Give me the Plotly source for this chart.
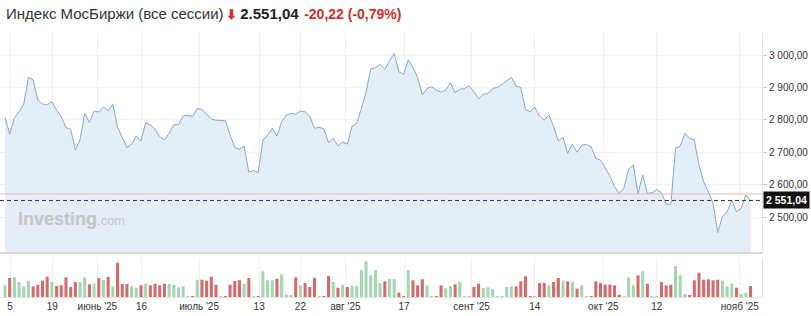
import plotly.graph_objects as go

# ---- data ----
close = [2808, 2756, 2805, 2825, 2849, 2931, 2923, 2861, 2849, 2846,
         2856, 2830, 2810, 2776, 2771, 2707, 2738, 2820, 2791, 2827,
         2824, 2840, 2828, 2848, 2777, 2748, 2714, 2724, 2750, 2735,
         2791, 2784, 2771, 2748, 2738, 2758, 2784, 2786, 2812, 2815,
         2810, 2835, 2832, 2818, 2802, 2799, 2799, 2797, 2753, 2715,
         2709, 2719, 2638, 2644, 2637, 2738, 2753, 2774, 2750, 2794,
         2815, 2820, 2818, 2827, 2825, 2810, 2774, 2777, 2772, 2730,
         2743, 2719, 2732, 2725, 2779, 2789, 2835, 2885, 2957, 2961,
         2971, 2956, 2982, 3005, 2948, 2941, 2985, 2962, 2931, 2877,
         2897, 2902, 2892, 2885, 2892, 2914, 2884, 2895, 2896, 2905,
         2887, 2865, 2879, 2881, 2897, 2900, 2910, 2921, 2931, 2904,
         2900, 2832, 2825, 2839, 2812, 2799, 2815, 2779, 2735, 2746,
         2697, 2725, 2700, 2722, 2724, 2717, 2681, 2676, 2650, 2627,
         2594, 2573, 2589, 2648, 2660, 2571, 2630, 2573, 2575, 2585,
         2575, 2540, 2539, 2712, 2719, 2758, 2743, 2738, 2660, 2609,
         2578, 2542, 2452, 2503, 2516, 2552, 2516, 2527, 2568, 2551.04]

volume = [11.7, 19, 19.7, 15, 10.7, 16.3, 10.7, 12.3, 16.3, 20.3,
          15, 11, 11.7, 19.7, 10, 15, 15, 19.7, 12.7, 13.3,
          19, 17, 20.3, 10.7, 34.3, 13, 13, 10.7, 9.3, 11.7,
          13.3, 11.7, 13.3, 11.7, 13.3, 13, 12.3, 9.7, 10.7, 0.8,
          0.8, 17.3, 17.3, 16.3, 20.3, 12.3, 0.8, 0.8, 12.3, 16,
          16.7, 13.3, 19, 0.8, 0.8, 25.7, 16.7, 16.7, 18.3, 22.7,
          2.7, 1.7, 19.7, 11.7, 14, 10, 19, 0.8, 0.8, 21,
          15, 9.3, 12.3, 10, 11, 11.3, 27, 35.7, 21.7, 27,
          14, 15.7, 18, 18, 4.3, 0.8, 27, 16.7, 11.7, 17.7,
          11.7, 0.8, 0.8, 11.7, 8.7, 11, 12.7, 15, 0.8, 0.8,
          10, 13.3, 9, 9.7, 8, 0.8, 0.8, 10, 10.7, 10.7,
          15.7, 20.7, 0.8, 0.8, 14, 14, 11.7, 15, 19, 16.3,
          15.7, 15, 8.3, 11.7, 0.8, 0.8, 15.7, 14, 12.3, 12.3,
          11.7, 2.3, 0.8, 19.7, 11.7, 21.7, 25.7, 13.3, 0.8, 0.8,
          15, 11.7, 12.3, 31, 21.7, 3, 1.7, 16.7, 24.3, 17.3,
          17.7, 16.7, 17.3, 16.3, 10.7, 13.3, 9.3, 3, 4.3, 11]

tick_pos = [1.07, 10.1, 19.7, 29.1, 41.4, 54.2, 63.0, 72.6, 85.1, 99.5, 113.0, 127.6, 139.0, 156.7]
tick_text = ["5", "19", "июнь '25", "16", "июль '25", "13", "22", "авг '25", "17",
             "сент '25", "14", "окт '25", "12", "нояб '25"]

price_ticks = [2500, 2600, 2700, 2800, 2900, 3000]
last_price = 2551.04
prev_close = 2571.26

idx = list(range(len(close)))
colors = []
for i, v in enumerate(close):
    up = True if i == 0 else v >= close[i - 1]
    colors.append('#a6d5b3' if up else '#d46b6b')

FONT = "Liberation Sans, Arial, sans-serif"

fig = go.Figure()
fig.add_trace(go.Scatter(x=idx, y=close, mode='lines',
                         line=dict(color='#87a8c6', width=1),
                         fill='tozeroy', fillcolor='#e5edf6',
                         xaxis='x', yaxis='y', hoverinfo='skip'))
fig.add_trace(go.Bar(x=idx, y=volume, marker=dict(color=colors, line_width=0),
                     xaxis='x2', yaxis='y2', hoverinfo='skip'))

xr = [-1.066, 161.44]
xdom = [0, 762 / 811]

fig.update_layout(
    width=811, height=316, margin=dict(l=0, r=0, t=0, b=0),
    paper_bgcolor='white', plot_bgcolor='white', showlegend=False,
    bargap=0.35, separators=', ',
    font=dict(family=FONT, size=10, color='#333'),
    xaxis=dict(domain=xdom, range=xr, anchor='y', tickvals=tick_pos,
               showticklabels=False, showgrid=True, gridcolor='#f1f1f1',
               showline=True, linecolor='#d9d9d9', linewidth=2, zeroline=False, ticks=''),
    xaxis2=dict(domain=xdom, range=xr, anchor='y2', matches='x', tickvals=tick_pos,
                ticktext=tick_text, tickfont=dict(size=10, color='#333'),
                showgrid=True, gridcolor='#f1f1f1', showline=True, linecolor='#e3e3e3',
                zeroline=False, ticks=''),
    yaxis=dict(domain=[1 - 252 / 316, 1 - 33 / 316], range=[2392, 3068], side='right',
               anchor='x', tickvals=price_ticks, tickformat=',.2f',
               tickfont=dict(size=10, color='#333'), showgrid=True, gridcolor='#f1f1f1',
               showline=True, linecolor='#e3e3e3', zeroline=False,
               ticks='outside', ticklen=4, tickcolor='#cccccc'),
    yaxis2=dict(domain=[1 - 297 / 316, 1 - 258 / 316], range=[0, 39], side='right',
                anchor='x2', showticklabels=False, showgrid=False,
                showline=True, linecolor='#e3e3e3', zeroline=False),
    shapes=[
        dict(type='line', xref='x domain', x0=0, x1=1, yref='y', y0=prev_close, y1=prev_close,
             line=dict(color='#f2b3b3', width=1)),
        dict(type='line', xref='x domain', x0=0, x1=1, yref='y', y0=last_price, y1=last_price,
             line=dict(color='#333333', width=1, dash='4px,3px')),
    ],
    annotations=[
        dict(xref='paper', yref='paper', x=4 / 811, y=1 - 13 / 316, xanchor='left', yanchor='middle',
             showarrow=False, align='left',
             text=("<span style='font-size:15px;color:#333'>Индекс МосБиржи (все сессии)</span> "
                   "<b><span style='font-size:13px;color:#d0312d'>⬇</span></b> "
                   "<b><span style='font-size:15px;color:#222'>2.551,04</span></b>  "
                   "<b><span style='font-size:14px;color:#c8312c'>-20,22 (-0,79%)</span></b>"),
             font=dict(family=FONT)),
        dict(xref='paper', yref='paper', x=16 / 811, y=1 - 219 / 316, xanchor='left', yanchor='middle',
             showarrow=False,
             text="<b>Investing</b><span style='font-size:13px'>.com</span>",
             font=dict(family=FONT, size=18, color='#c4c4c4')),
        dict(xref='paper', yref='y', x=763 / 811, y=last_price, xanchor='left', yanchor='middle',
             showarrow=False, text="<b>2 551,04</b>", bgcolor='#111111', borderpad=2,
             font=dict(family=FONT, size=10.5, color='white')),
    ],
)

fig.write_html("out.html")
